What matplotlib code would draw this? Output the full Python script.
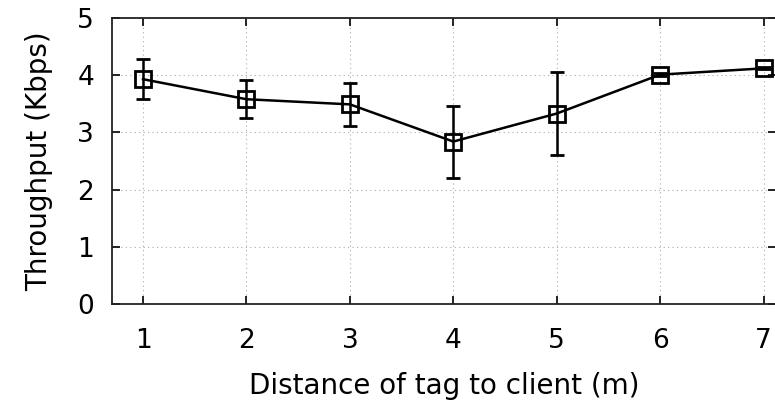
import numpy as np
import matplotlib.pyplot as plt

distance = [1, 2, 3, 4, 5, 6, 7]
throughput = [3.93, 3.58, 3.49, 2.84, 3.33, 4.01, 4.12]
err = [0.35, 0.33, 0.38, 0.63, 0.72, 0.02, 0.02]

yticks = [0, 1, 2, 3, 4, 5]

fig = plt.figure(figsize=(7.75, 4.04), dpi=100)
ax = fig.add_axes([112 / 775, 1 - 304 / 404, (776 - 112) / 775, (304 - 18) / 404])

ax.errorbar(distance, throughput, yerr=err, color='black', lw=1.8,
            marker='s', markersize=11, markerfacecolor='none',
            markeredgewidth=2, capsize=5, capthick=1.8, elinewidth=1.8)

ax.set_xlim(0.7, 7.12)
ax.set_ylim(0, 5)
ax.set_xticks(distance)
ax.set_yticks(yticks)
ax.grid(True, linestyle=(0, (1, 3)), color='#aaaaaa', lw=0.8)
ax.tick_params(direction='in', length=6, width=1.2, top=True, right=True,
               labelsize=19, pad=13)
ax.tick_params(axis='x', pad=17)
for s in ax.spines.values():
    s.set_linewidth(1.3)
    s.set_color('#222222')

ax.set_xlabel('Distance of tag to client (m)', fontsize=20, labelpad=13)
ax.set_ylabel('Throughput (Kbps)', fontsize=20, labelpad=17)

fig.savefig('out.png', dpi=100)
